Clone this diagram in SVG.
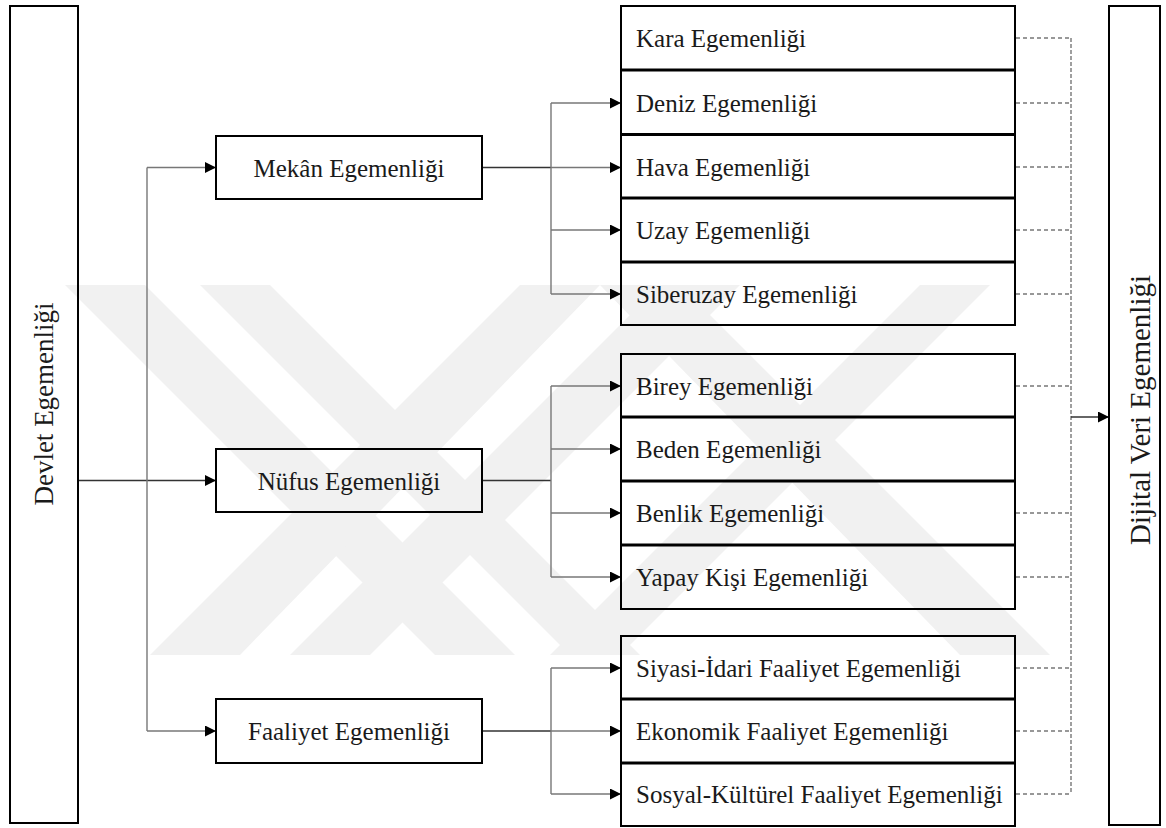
<svg xmlns="http://www.w3.org/2000/svg" width="1166" height="828" viewBox="0 0 1166 828">
<style>
.bx{fill:none;stroke:#000;stroke-width:2}
.t{font-family:"Liberation Serif","Times New Roman",serif;font-size:25px;fill:#1a1a1a}
.m{text-anchor:middle}
.v{font-family:"Liberation Serif","Times New Roman",serif;fill:#1a1a1a;text-anchor:middle}
.ln{fill:none;stroke:#333;stroke-width:1.4}
.lg{fill:none;stroke:#777;stroke-width:1.4}
.ds{fill:none;stroke:#333;stroke-width:1.1;stroke-dasharray:4 3}
.dv{fill:none;stroke:#777;stroke-width:1.4;stroke-dasharray:4 2}
.wm{fill:#f1f1f1}
</style>
<defs>
<marker id="ah" markerUnits="userSpaceOnUse" markerWidth="12" markerHeight="12" refX="11" refY="5.5" orient="auto">
<path d="M0,0 L11,5.5 L0,11 z" fill="#000"/>
</marker>
</defs>
<rect width="1166" height="828" fill="#fff"/>
<g id="watermark">
<polygon class="wm" points="65,285 145,285 515,655 435,655"/>
<polygon class="wm" points="200,285 270,285 640,655 570,655"/>
<polygon class="wm" points="520,285 600,285 240,655 150,655"/>
<polygon class="wm" points="920,285 990,285 620,655 550,655"/>
<polygon class="wm" points="600,285 680,285 1050,655 960,655"/>
<polygon class="wm" points="660,285 740,285 370,655 290,655"/>
</g>
<g id="connectors">
<path class="ln" d="M78,480.5 H216" marker-end="url(#ah)"/>
<path class="lg" d="M147,167.5 V731"/>
<path class="lg" d="M147,167.5 H216" marker-end="url(#ah)"/>
<path class="lg" d="M147,731 H216" marker-end="url(#ah)"/>
<path class="ln" d="M482,167.5 H551"/>
<path class="lg" d="M551,103 V294"/>
<path class="lg" d="M551,103 H621" marker-end="url(#ah)"/>
<path class="lg" d="M551,167.5 H621" marker-end="url(#ah)"/>
<path class="lg" d="M551,230 H621" marker-end="url(#ah)"/>
<path class="lg" d="M551,294 H621" marker-end="url(#ah)"/>
<path class="ln" d="M482,480.5 H551"/>
<path class="lg" d="M551,386 V577"/>
<path class="lg" d="M551,386 H621" marker-end="url(#ah)"/>
<path class="lg" d="M551,449 H621" marker-end="url(#ah)"/>
<path class="lg" d="M551,513 H621" marker-end="url(#ah)"/>
<path class="lg" d="M551,577 H621" marker-end="url(#ah)"/>
<path class="ln" d="M482,731 H551"/>
<path class="lg" d="M551,668 V794"/>
<path class="lg" d="M551,668 H621" marker-end="url(#ah)"/>
<path class="lg" d="M551,731 H621" marker-end="url(#ah)"/>
<path class="lg" d="M551,794 H621" marker-end="url(#ah)"/>
<path class="ds" d="M1016,38 H1071 M1016,103 H1071 M1016,167 H1071 M1016,230 H1071 M1016,294 H1071 M1016,386 H1071 M1016,513 H1071 M1016,577 H1071 M1016,668 H1071 M1016,731 H1071 M1016,794 H1071"/>
<path class="dv" d="M1071,38 V794"/>
<path class="ln" d="M1071,417 H1109" marker-end="url(#ah)"/>
</g>
<g id="devlet">
<rect class="bx" x="10" y="6" width="68" height="817"/>
<text class="v" font-size="27" transform="translate(53,404) rotate(-90)">Devlet Egemenliği</text>
</g>
<g id="dijital">
<rect class="bx" x="1109" y="6" width="51" height="819"/>
<text class="v" font-size="29" transform="translate(1150,410) rotate(-90)">Dijital Veri Egemenliği</text>
</g>
<g id="mekan">
<rect class="bx" x="216" y="136" width="266" height="63"/>
<text class="t m" x="349" y="176.5">Mekân Egemenliği</text>
</g>
<g id="nufus">
<rect class="bx" x="216" y="449" width="266" height="63"/>
<text class="t m" x="349" y="489.5">Nüfus Egemenliği</text>
</g>
<g id="faaliyet">
<rect class="bx" x="216" y="699" width="266" height="64"/>
<text class="t m" x="349" y="740">Faaliyet Egemenliği</text>
</g>
<g id="kara">
<rect class="bx" x="621" y="6" width="394" height="63.5"/>
<text class="t" x="636" y="47">Kara Egemenliği</text>
</g>
<g id="deniz">
<rect class="bx" x="621" y="70.5" width="394" height="63.5"/>
<text class="t" x="636" y="112">Deniz Egemenliği</text>
</g>
<g id="hava">
<rect class="bx" x="621" y="135" width="394" height="62.5"/>
<text class="t" x="636" y="176">Hava Egemenliği</text>
</g>
<g id="uzay">
<rect class="bx" x="621" y="198.5" width="394" height="63"/>
<text class="t" x="636" y="239">Uzay Egemenliği</text>
</g>
<g id="siberuzay">
<rect class="bx" x="621" y="262.5" width="394" height="62.5"/>
<text class="t" x="636" y="303">Siberuzay Egemenliği</text>
</g>
<g id="birey">
<rect class="bx" x="621" y="354" width="394" height="62.5"/>
<text class="t" x="636" y="395">Birey Egemenliği</text>
</g>
<g id="beden">
<rect class="bx" x="621" y="417.5" width="394" height="63"/>
<text class="t" x="636" y="458">Beden Egemenliği</text>
</g>
<g id="benlik">
<rect class="bx" x="621" y="481.5" width="394" height="63"/>
<text class="t" x="636" y="522">Benlik Egemenliği</text>
</g>
<g id="yapay">
<rect class="bx" x="621" y="545.5" width="394" height="63.5"/>
<text class="t" x="636" y="586">Yapay Kişi Egemenliği</text>
</g>
<g id="siyasi">
<rect class="bx" x="621" y="636" width="394" height="62.5"/>
<text class="t" x="636" y="677">Siyasi-İdari Faaliyet Egemenliği</text>
</g>
<g id="ekonomik">
<rect class="bx" x="621" y="699.5" width="394" height="63"/>
<text class="t" x="636" y="740">Ekonomik Faaliyet Egemenliği</text>
</g>
<g id="sosyal">
<rect class="bx" x="621" y="763.5" width="394" height="62.5"/>
<text class="t" x="636" y="803">Sosyal-Kültürel Faaliyet Egemenliği</text>
</g>
</svg>
